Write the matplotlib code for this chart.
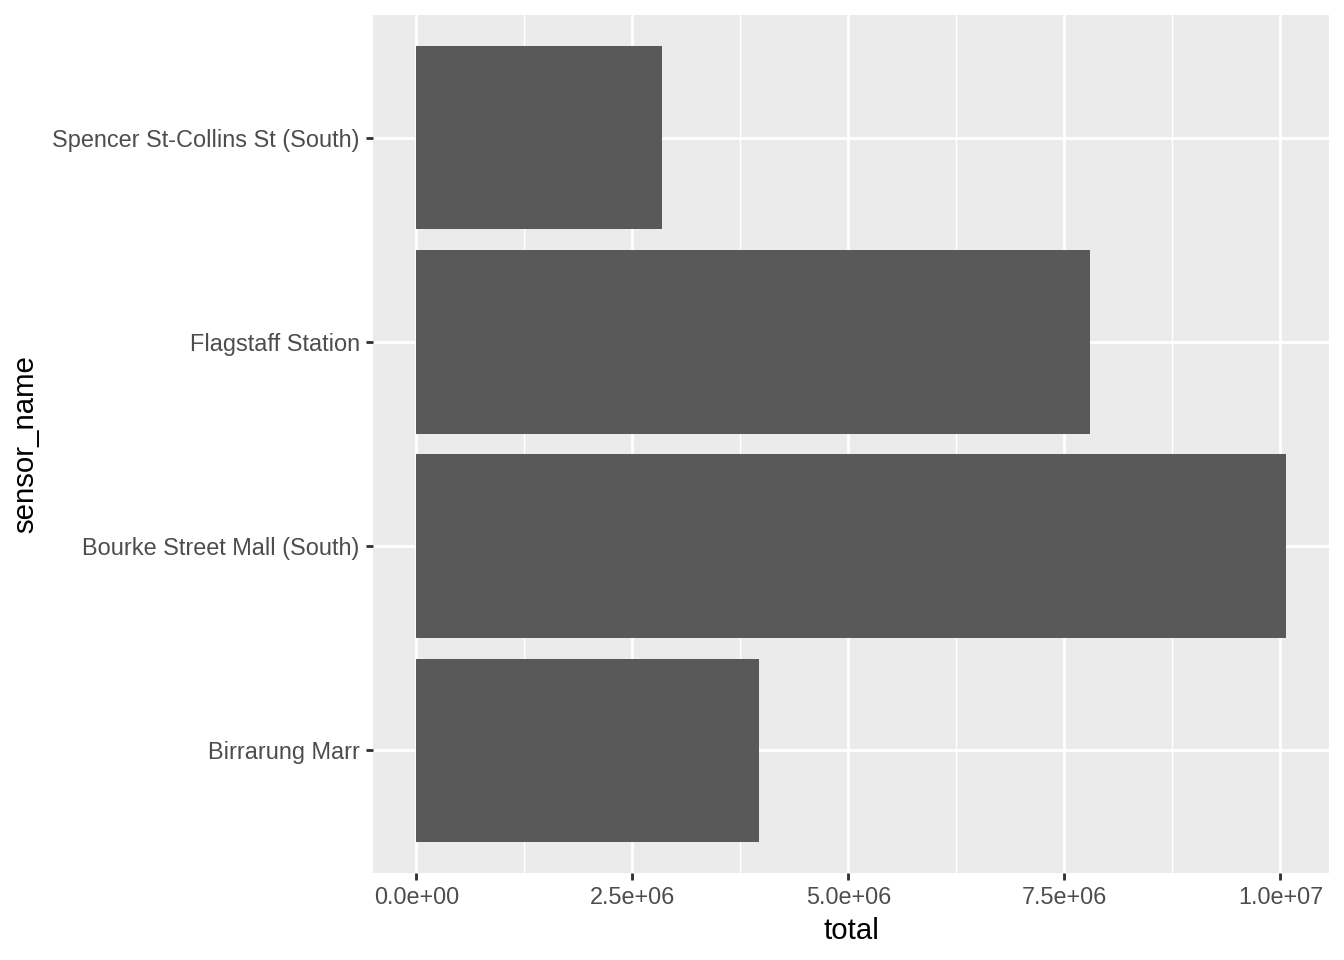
import matplotlib
matplotlib.use("Agg")
import matplotlib.pyplot as plt
from matplotlib.ticker import FuncFormatter, FixedLocator
import numpy as np

# data
sensor_name = ["Birrarung Marr", "Bourke Street Mall (South)",
               "Flagstaff Station", "Spencer St-Collins St (South)"]
total = [3.97e6, 10.06e6, 7.80e6, 2.84e6]

x_major = [0, 2.5e6, 5.0e6, 7.5e6, 1.0e7]
x_minor = [1.25e6, 3.75e6, 6.25e6, 8.75e6]

plt.rcParams['font.family'] = ['Liberation Sans', 'DejaVu Sans']

fig = plt.figure(figsize=(7, 5), dpi=192)
ax = fig.add_axes([373 / 1344, 1 - 873 / 960, (1329 - 373) / 1344, (873 - 15) / 960])
ax.set_facecolor("#EBEBEB")

ypos = np.arange(1, len(sensor_name) + 1)
ax.barh(ypos, total, height=0.9, color="#595959", zorder=3)

# ggplot style expansion
xmax = max(total)
ax.set_xlim(-0.05 * xmax, xmax * 1.05)
ax.set_ylim(0.4, len(sensor_name) + 0.6)

ax.xaxis.set_major_locator(FixedLocator(x_major))
ax.xaxis.set_minor_locator(FixedLocator(x_minor))
ax.set_yticks(ypos)
ax.set_yticklabels(sensor_name)
ax.xaxis.set_major_formatter(FuncFormatter(lambda v, p: f"{v:.1e}"))

ax.grid(which="major", color="white", linewidth=1.07, zorder=1)
ax.grid(which="minor", axis="x", color="white", linewidth=0.53, zorder=1)
ax.set_axisbelow(True)

for s in ax.spines.values():
    s.set_visible(False)

ax.tick_params(which="major", length=2.75, width=1.07, color="#333333",
               labelcolor="#4D4D4D", labelsize=8.8, pad=2.2)
ax.tick_params(which="minor", length=0)

ax.set_xlabel("total", fontsize=11, color="black", labelpad=2.75)
ax.set_ylabel("sensor_name", fontsize=11, color="black", labelpad=5)

fig.savefig("out.png", dpi=192)
